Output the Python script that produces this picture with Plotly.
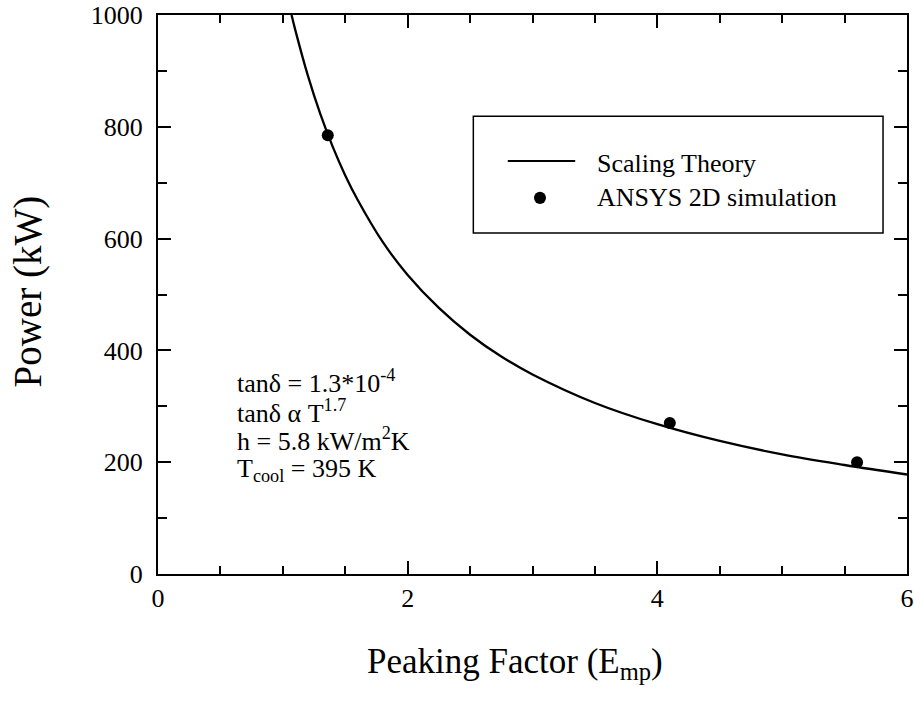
import plotly.graph_objects as go

# Scaling-theory curve: power (kW) versus peaking factor
theory_x = [1.07, 1.1, 1.2, 1.3, 1.4, 1.5, 1.6, 1.8, 2.0, 2.25, 2.5, 2.75,
            3.0, 3.5, 4.0, 4.5, 5.0, 5.5, 6.0]
theory_p = [1000, 973, 892, 823, 764, 713, 669, 594, 535, 476, 428, 389,
            357, 306, 268, 238, 214, 195, 178]

# ANSYS 2D simulation points
sim_x = [1.36, 4.10, 5.60]
sim_p = [785, 270, 200]

x_ticks = [0, 2, 4, 6]
y_ticks = [0, 200, 400, 600, 800, 1000]

FONT = "Liberation Serif"

fig = go.Figure()
fig.add_trace(go.Scatter(x=theory_x, y=theory_p, mode="lines",
                         line=dict(color="black", width=2.3), line_shape="spline",
                         showlegend=False))
fig.add_trace(go.Scatter(x=sim_x, y=sim_p, mode="markers",
                         marker=dict(color="black", size=12),
                         showlegend=False))

axis_common = dict(
    showgrid=False, zeroline=False, showline=True, linecolor="black",
    linewidth=2, mirror="ticks", ticks="inside", ticklen=13, tickwidth=2,
    tickcolor="black", automargin=False,
    tickfont=dict(family=FONT, size=26, color="black"),
)
fig.update_xaxes(range=[0, 6], tickvals=x_ticks,
                 minor=dict(ticks="inside", ticklen=8, tickwidth=2,
                            tickcolor="black", dtick=0.5),
                 **axis_common)
fig.update_yaxes(range=[0, 1000], tickvals=y_ticks, ticklabelstandoff=8,
                 minor=dict(ticks="inside", ticklen=9, tickwidth=2,
                            tickcolor="black", dtick=100),
                 **axis_common)

# Axis titles
fig.add_annotation(text="Power (kW)", xref="paper", yref="paper",
                   x=-0.174, y=0.505, textangle=-90, showarrow=False,
                   xanchor="center", yanchor="middle",
                   font=dict(family=FONT, size=39, color="black"))
fig.add_annotation(text="Peaking Factor (E<sub>mp</sub>)", xref="paper",
                   yref="paper", x=0.477, y=-0.118, yanchor="top",
                   xanchor="center", showarrow=False,
                   font=dict(family=FONT, size=35, color="black"))

# Legend box
fig.add_shape(type="rect", xref="paper", yref="paper",
              x0=0.421, x1=0.968, y0=0.610, y1=0.819,
              line=dict(color="black", width=1.5), fillcolor="white")
fig.add_shape(type="line", xref="paper", yref="paper",
              x0=0.467, x1=0.557, y0=0.739, y1=0.739,
              line=dict(color="black", width=2))
fig.add_shape(type="circle", xref="paper", yref="paper",
              x0=0.502, x1=0.518, y0=0.662, y1=0.684,
              line=dict(color="black", width=0), fillcolor="black")
fig.add_annotation(text="Scaling Theory", xref="paper", yref="paper",
                   x=0.584, y=0.735, xanchor="left", yanchor="middle",
                   showarrow=False,
                   font=dict(family=FONT, size=26, color="black"))
fig.add_annotation(text="ANSYS 2D simulation", xref="paper", yref="paper",
                   x=0.584, y=0.674, xanchor="left", yanchor="middle",
                   showarrow=False,
                   font=dict(family=FONT, size=26, color="black"))

# Parameter notes
notes = [
    "tanδ = 1.3*10<sup>-4</sup>",
    "tanδ α T<sup>1.7</sup>",
    "h = 5.8 kW/m<sup>2</sup>K",
    "T<sub>cool</sub> = 395 K",
]
note_y = [0.345, 0.290, 0.240, 0.186]
for txt, yy in zip(notes, note_y):
    fig.add_annotation(text=txt, xref="paper", yref="paper", x=0.103, y=yy,
                       xanchor="left", yanchor="middle", showarrow=False,
                       font=dict(family=FONT, size=26, color="black"))

fig.update_layout(
    width=914, height=715,
    margin=dict(l=158, r=7, t=15, b=141),
    plot_bgcolor="white", paper_bgcolor="white",
    font=dict(family=FONT, color="black"),
)

fig.write_html("out.html")
